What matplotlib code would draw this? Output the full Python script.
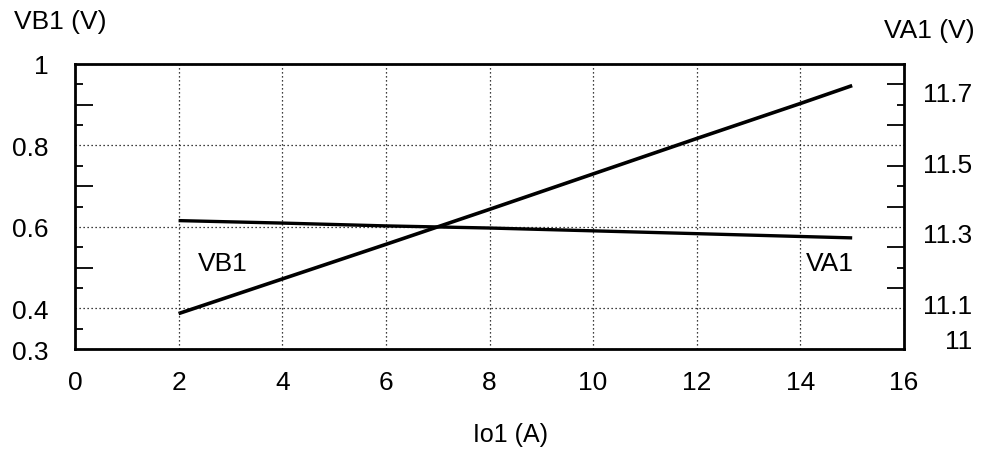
import matplotlib
matplotlib.use("Agg")
import matplotlib.pyplot as plt
from matplotlib.ticker import FixedLocator, NullFormatter

plt.rcParams['font.family'] = ['Liberation Sans', 'DejaVu Sans']
plt.rcParams['font.size'] = 19

# Output current Io1 (A)
io1 = [2, 4, 6, 8, 10, 12, 14, 15]
# Measured voltages
vb1 = [0.387, 0.472, 0.557, 0.643, 0.730, 0.817, 0.903, 0.947]
va1 = [11.335, 11.328, 11.320, 11.314, 11.306, 11.298, 11.290, 11.286]

x_ticks = [0, 2, 4, 6, 8, 10, 12, 14, 16]
vb_ticks = [0.3, 0.4, 0.6, 0.8, 1.0]
vb_ticklabels = ["0.3", "0.4", "0.6", "0.8", "1"]
va_ticks = [11.0, 11.1, 11.3, 11.5, 11.7]
va_ticklabels = ["11", "11.1", "11.3", "11.5", "11.7"]

# Left scale limits and the matching right scale limits
vb_lim = (0.3, 1.0)
va_lim = (10.971, 11.779)

fig = plt.figure(figsize=(9.84, 4.56), dpi=100)
ax = fig.add_axes([75 / 984, 1 - 350 / 456, 829 / 984, 285 / 456])
ax.set_xlim(0, 16)
ax.set_ylim(*vb_lim)

ax.set_xticks(x_ticks)
ax.set_xticklabels([str(t) for t in x_ticks])
ax.set_yticks(vb_ticks)
ax.set_yticklabels(vb_ticklabels)
ax.tick_params(axis='x', length=0, pad=15)
ax.tick_params(axis='y', length=0, pad=19)
ax.grid(True, color='black', linestyle=(0, (1, 2.2)), linewidth=0.9)
for s in ax.spines.values():
    s.set_linewidth(2.0)

ax.plot(io1, vb1, color='black', linewidth=2.6, solid_capstyle='butt', zorder=3)
ax.text(2.86, 0.512, "VB1", ha='center', va='center')
ax.text(14.57, 0.51, "VA1", ha='center', va='center')

ax.set_xlabel("Io1 (A)", va='center', fontsize=18)
ax.xaxis.set_label_coords((510 - 75) / 829, (350 - 435) / 285)

# Inner tick marks on the left edge
left_marks = ax.secondary_yaxis('left')
left_marks.yaxis.set_major_locator(FixedLocator([0.5, 0.7, 0.9]))
left_marks.yaxis.set_minor_locator(FixedLocator([0.35, 0.45, 0.55, 0.65, 0.75, 0.85, 0.95]))
left_marks.yaxis.set_major_formatter(NullFormatter())
left_marks.tick_params(which='major', direction='in', length=13, width=1.3)
left_marks.tick_params(which='minor', direction='in', length=6, width=1.3)
left_marks.spines['left'].set_visible(False)

# Inner tick marks on the right edge
right_marks = ax.secondary_yaxis('right')
right_marks.yaxis.set_major_locator(FixedLocator([0.45, 0.55, 0.65, 0.75, 0.85, 0.95]))
right_marks.yaxis.set_minor_locator(FixedLocator([0.5, 0.7, 0.9]))
right_marks.yaxis.set_major_formatter(NullFormatter())
right_marks.tick_params(which='major', direction='in', length=12, width=1.3)
right_marks.tick_params(which='minor', direction='in', length=5, width=1.3)
right_marks.spines['right'].set_visible(False)

# Right scale for VA1
ax2 = ax.twinx()
ax2.set_ylim(*va_lim)
ax2.set_yticks(va_ticks)
ax2.set_yticklabels(va_ticklabels)
ax2.tick_params(axis='y', length=0, pad=49)
for lbl in ax2.get_yticklabels():
    lbl.set_horizontalalignment('right')
for s in ax2.spines.values():
    s.set_visible(False)
ax2.plot(io1, va1, color='black', linewidth=2.4, solid_capstyle='butt', zorder=3)

fig.text(60.5 / 984, 1 - 22.5 / 456, "VB1 (V)", ha='center', va='center')
fig.text(929 / 984, 1 - 31 / 456, "VA1 (V)", ha='center', va='center')

fig.savefig("out.png", dpi=100)
